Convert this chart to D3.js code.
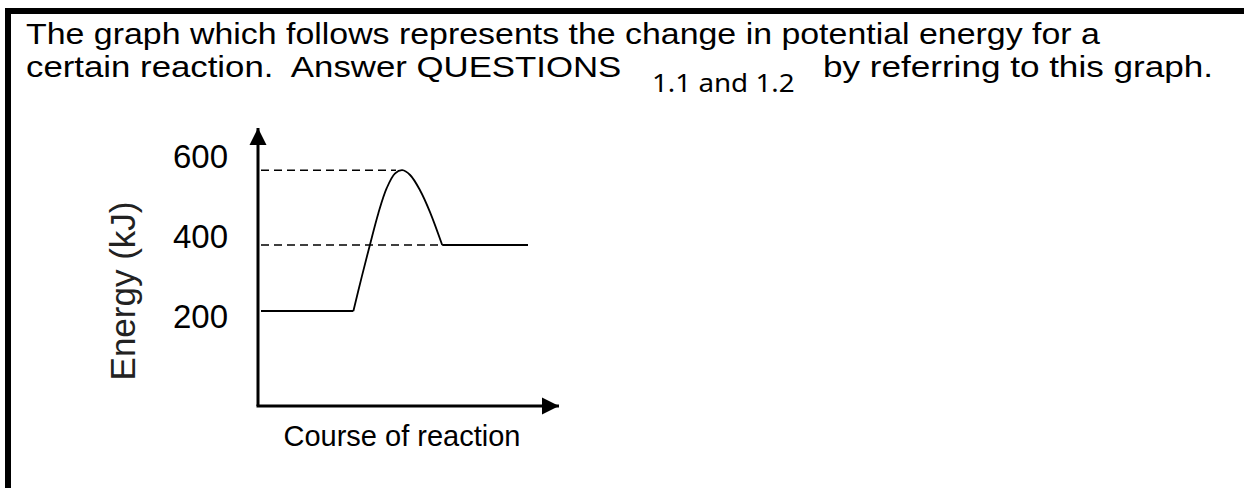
<!DOCTYPE html>
<html>
<head>
<meta charset="utf-8">
<script src="https://cdn.jsdelivr.net/npm/d3@7"></script>
<style>
  html, body { margin: 0; padding: 0; background: #fff; }
  svg { display: block; }
</style>
</head>
<body>
<div id="chart"></div>
<script>
// energy levels (kJ)
var energyTicks = [200, 400, 600];
var flatReactants = [{ x: 1, e: 215 }, { x: 31.8, e: 215 }];
var humpPoints = [
    { x: 31.8, e: 215 }, { x: 34.6, e: 301 }, { x: 37.3, e: 380 },
    { x: 40.1, e: 459 }, { x: 42.9, e: 522 }, { x: 45.7, e: 559 },
    { x: 48.1, e: 567 }, { x: 50.7, e: 555 }, { x: 54, e: 517 },
    { x: 57.3, e: 463 }, { x: 61.4, e: 380 }
];
var flatProducts = [{ x: 61.4, e: 380 }, { x: 90, e: 380 }];
var dashedLevels = [{ e: 567, xEnd: 46 }, { e: 380, xEnd: 61.4 }];

var width = 1244, height = 488;

var svg = d3.select("#chart").append("svg")
    .attr("width", width)
    .attr("height", height);

svg.append("rect").attr("width", width).attr("height", height).attr("fill", "#fff");

// frame (top and left edges)
svg.append("path")
    .attr("d", "M8,488 V11 H1244")
    .attr("fill", "none")
    .attr("stroke", "#000")
    .attr("stroke-width", 6);

// title text, slightly stretched sideways like the scan
function titleText(x, y, str, size, family, sx) {
    svg.append("text")
        .attr("transform", "translate(" + x + "," + y + ") scale(" + sx + ",1)")
        .attr("font-family", family)
        .attr("font-size", size)
        .attr("fill", "#000")
        .attr("xml:space", "preserve")
        .text(str);
}
var arial = "'Liberation Sans', Arial, sans-serif";
titleText(26, 44, "The graph which follows represents the change in potential energy for a", 30, arial, 1.13);
titleText(26, 77, "certain reaction.  Answer QUESTIONS", 30, arial, 1.16);
titleText(652, 92, "1.1 and 1.2", 25, "'Noto Sans', sans-serif", 1.11);
titleText(823, 77, "by referring to this graph.", 30, arial, 1.17);

// scales
var xScale = d3.scaleLinear().domain([0, 100]).range([258, 558]);
var yScale = d3.scaleLinear().domain([0, 600]).range([397, 157]);

// y tick labels
var yAxis = svg.append("g")
    .attr("transform", "translate(258,0)")
    .call(d3.axisLeft(yScale).tickValues(energyTicks).tickSize(0).tickPadding(30));
yAxis.select(".domain").remove();
yAxis.selectAll("text")
    .attr("font-family", arial)
    .attr("font-size", 33)
    .attr("fill", "#000");

// axes with arrows
svg.append("defs").append("marker")
    .attr("id", "arrow")
    .attr("viewBox", "0 0 10 10")
    .attr("refX", 10).attr("refY", 5)
    .attr("markerWidth", 17).attr("markerHeight", 18)
    .attr("markerUnits", "userSpaceOnUse")
    .attr("orient", "auto")
    .append("path").attr("d", "M0,0 L10,5 L0,10 Z").attr("fill", "#000");

svg.append("path")
    .attr("d", "M258,406 V128")
    .attr("stroke", "#000").attr("stroke-width", 3).attr("fill", "none")
    .attr("marker-end", "url(#arrow)");
svg.append("path")
    .attr("d", "M256.5,406 H559")
    .attr("stroke", "#000").attr("stroke-width", 3).attr("fill", "none")
    .attr("marker-end", "url(#arrow)");

// axis titles
svg.append("text")
    .attr("transform", "translate(135,291) rotate(-90)")
    .attr("text-anchor", "middle")
    .attr("font-family", arial)
    .attr("font-size", 35)
    .attr("fill", "#222")
    .text("Energy (kJ)");
svg.append("text")
    .attr("x", 402).attr("y", 446)
    .attr("text-anchor", "middle")
    .attr("font-family", arial)
    .attr("font-size", 29)
    .attr("fill", "#000")
    .text("Course of reaction");

// dashed guide lines
svg.selectAll(".guide").data(dashedLevels).enter().append("line")
    .attr("class", "guide")
    .attr("x1", xScale(1)).attr("x2", function (d) { return xScale(d.xEnd); })
    .attr("y1", function (d) { return yScale(d.e); })
    .attr("y2", function (d) { return yScale(d.e); })
    .attr("stroke", "#000").attr("stroke-width", 1.5)
    .attr("stroke-dasharray", "8,5");

// energy profile
var straight = d3.line().x(function (d) { return xScale(d.x); }).y(function (d) { return yScale(d.e); });
var smooth = d3.line().x(function (d) { return xScale(d.x); }).y(function (d) { return yScale(d.e); })
    .curve(d3.curveCatmullRom.alpha(0.5));

[flatReactants, flatProducts].forEach(function (seg) {
    svg.append("path").datum(seg)
        .attr("d", straight)
        .attr("fill", "none").attr("stroke", "#000").attr("stroke-width", 1.8);
});
svg.append("path").datum(humpPoints)
    .attr("d", smooth)
    .attr("fill", "none").attr("stroke", "#000").attr("stroke-width", 1.8);
</script>
</body>
</html>
